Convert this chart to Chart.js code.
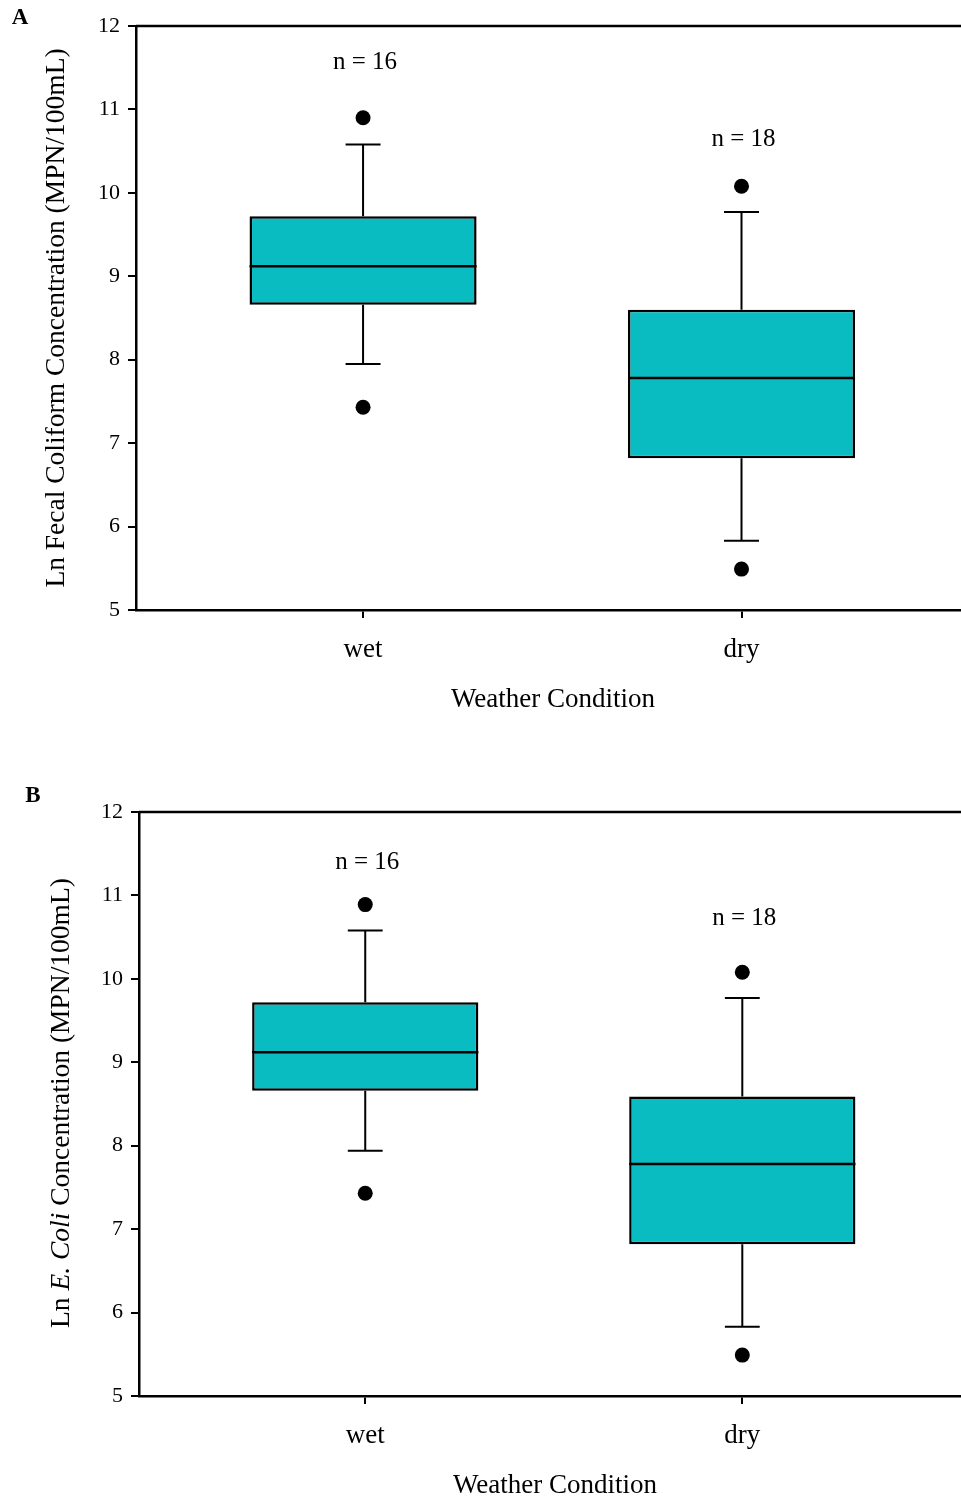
<!DOCTYPE html>
<html>
<head>
<meta charset="utf-8">
<script src="https://cdn.jsdelivr.net/npm/chart.js@4.4.1/dist/chart.umd.min.js"></script>
<style>
html, body { margin: 0; padding: 0; background: #fff; }
#wrap { position: relative; width: 961px; height: 1500px; }
canvas { position: absolute; left: 0; }
#chartA { top: 0; }
#chartB { top: 770px; }
</style>
</head>
<body>
<div id="wrap">
  <canvas id="chartA" width="961" height="740"></canvas>
  <canvas id="chartB" width="961" height="730"></canvas>
</div>
<script>
// data
var categories = ['wet', 'dry'];
var sampleSizes = [16, 18];
var yTicks = [5, 6, 7, 8, 9, 10, 11, 12];

// panel A - Ln fecal coliform
var fcQ1 = [8.66, 6.82];
var fcMedian = [9.12, 7.78];
var fcQ3 = [9.72, 8.60];
var fcWhiskerLow = [7.95, 5.83];
var fcWhiskerHigh = [10.58, 9.77];
var fcOutlierLow = [7.43, 5.49];
var fcOutlierHigh = [10.90, 10.08];

// panel B - Ln E. coli
var ecQ1 = [8.66, 6.82];
var ecMedian = [9.12, 7.78];
var ecQ3 = [9.72, 8.59];
var ecWhiskerLow = [7.94, 5.83];
var ecWhiskerHigh = [10.58, 9.77];
var ecOutlierLow = [7.43, 5.49];
var ecOutlierHigh = [10.89, 10.08];

var SERIF = "'Liberation Serif', 'Times New Roman', serif";
Chart.defaults.color = '#000';
Chart.defaults.font.family = SERIF;

function makeExtras(p) {
    return {
        id: 'boxExtras',
        beforeDatasetsDraw: function(chart) {
            var x = chart.scales.x, y = chart.scales.y, ctx = chart.ctx;
            var bars = chart.getDatasetMeta(0).data;
            ctx.save();
            ctx.strokeStyle = '#000';
            ctx.lineWidth = 2;
            for (var i = 0; i < categories.length; i++) {
                var px = x.getPixelForValue(i + 1);
                var cap = bars[i].width * 0.077;
                var pairs = [[p.q3[i], p.wHi[i]], [p.q1[i], p.wLo[i]]];
                pairs.forEach(function(pr) {
                    var y0 = y.getPixelForValue(pr[0]), y1 = y.getPixelForValue(pr[1]);
                    ctx.beginPath();
                    ctx.moveTo(px, y0);
                    ctx.lineTo(px, y1);
                    ctx.moveTo(px - cap, y1);
                    ctx.lineTo(px + cap, y1);
                    ctx.stroke();
                });
            }
            ctx.restore();
        },
        afterDatasetsDraw: function(chart) {
            var x = chart.scales.x, y = chart.scales.y, ctx = chart.ctx;
            var bars = chart.getDatasetMeta(0).data;
            ctx.save();
            ctx.strokeStyle = '#000';
            ctx.lineWidth = 2.5;
            for (var i = 0; i < categories.length; i++) {
                var b = bars[i];
                var ym = y.getPixelForValue(p.med[i]);
                ctx.beginPath();
                ctx.moveTo(b.x - b.width / 2, ym);
                ctx.lineTo(b.x + b.width / 2, ym);
                ctx.stroke();
                // n label above the top outlier
                ctx.fillStyle = '#000';
                ctx.font = '25px ' + SERIF;
                ctx.textAlign = 'center';
                ctx.textBaseline = 'middle';
                ctx.fillText('n = ' + sampleSizes[i], x.getPixelForValue(i + 1) + 2, y.getPixelForValue(p.oHi[i]) - p.nGap[i]);
            }
            ctx.restore();
        },
        afterDraw: function(chart) {
            var ctx = chart.ctx, a = chart.chartArea;
            ctx.save();
            // top frame line
            ctx.strokeStyle = '#000';
            ctx.lineWidth = 2.5;
            ctx.beginPath();
            ctx.moveTo(a.left, a.top);
            ctx.lineTo(chart.width, a.top);
            ctx.stroke();

            ctx.fillStyle = '#000';
            ctx.textBaseline = 'middle';
            // panel letter
            ctx.font = 'bold 23px ' + SERIF;
            ctx.textAlign = 'center';
            ctx.fillText(p.letter, p.letterX, p.letterY);

            // x title
            ctx.font = '27px ' + SERIF;
            ctx.fillText('Weather Condition', p.xTitleX, p.xTitleY);

            // y title, may have italic parts
            ctx.translate(p.yTitleX, p.yTitleY);
            ctx.rotate(-Math.PI / 2);
            var total = 0;
            p.yTitle.forEach(function(part) {
                ctx.font = (part[1] ? 'italic ' : '') + '27.5px ' + SERIF;
                total += ctx.measureText(part[0]).width;
            });
            var cx = -total / 2;
            ctx.textAlign = 'left';
            p.yTitle.forEach(function(part) {
                ctx.font = (part[1] ? 'italic ' : '') + '27.5px ' + SERIF;
                ctx.fillText(part[0], cx, 0);
                cx += ctx.measureText(part[0]).width;
            });
            ctx.restore();
        }
    };
}

function makeChart(id, p) {
    var ctx = document.getElementById(id).getContext('2d');
    var boxes = categories.map(function(c, i) { return { x: i + 1, y: [p.q1[i], p.q3[i]] }; });
    var outliers = [];
    categories.forEach(function(c, i) {
        outliers.push({ x: i + 1, y: p.oHi[i] });
        outliers.push({ x: i + 1, y: p.oLo[i] });
    });
    return new Chart(ctx, {
        type: 'bar',
        data: {
            datasets: [{
                data: boxes,
                backgroundColor: '#08BCC1',
                borderColor: '#000',
                borderWidth: 2.5,
                borderSkipped: false,
                barPercentage: 0.6,
                categoryPercentage: 1
            }, {
                type: 'scatter',
                data: outliers,
                pointRadius: 7.5,
                pointBackgroundColor: '#000',
                pointBorderWidth: 0
            }]
        },
        options: {
            responsive: false,
            animation: false,
            layout: { autoPadding: false, padding: { top: p.top, left: 0, right: 0, bottom: 0 } },
            plugins: { legend: { display: false }, tooltip: { enabled: false } },
            scales: {
                x: {
                    type: 'linear',
                    min: 0.4,
                    max: 2.58,
                    offset: false,
                    afterBuildTicks: function(s) {
                        s.ticks = categories.map(function(c, i) { return { value: i + 1 }; });
                    },
                    afterFit: function(s) {
                        s.height = p.canvasH - p.bottom;
                        s.paddingLeft = 0;
                        s.paddingRight = 0;
                    },
                    grid: { offset: false, drawOnChartArea: false, color: '#000', lineWidth: 2, tickLength: 8 },
                    border: { color: '#000', width: 2.5 },
                    ticks: {
                        padding: 16,
                        font: { size: 27 },
                        callback: function(v) { return categories[v - 1]; }
                    }
                },
                y: {
                    min: 5,
                    max: 12,
                    afterBuildTicks: function(s) {
                        s.ticks = yTicks.map(function(v) { return { value: v }; });
                    },
                    afterFit: function(s) {
                        s.width = p.left;
                        s.paddingTop = 0;
                        s.paddingBottom = 0;
                    },
                    grid: { drawOnChartArea: false, color: '#000', lineWidth: 2, tickLength: 8 },
                    border: { color: '#000', width: 2.5 },
                    ticks: { padding: 8, font: { size: 22 } }
                }
            }
        },
        plugins: [makeExtras(p)]
    });
}

makeChart('chartA', {
    q1: fcQ1, med: fcMedian, q3: fcQ3, wLo: fcWhiskerLow, wHi: fcWhiskerHigh,
    oLo: fcOutlierLow, oHi: fcOutlierHigh,
    canvasH: 740, top: 26, bottom: 610, left: 136,
    nGap: [55, 47],
    letter: 'A', letterX: 20, letterY: 18,
    xTitleX: 553, xTitleY: 700,
    yTitleX: 57, yTitleY: 318,
    yTitle: [['Ln Fecal Coliform Concentration (MPN/100mL)', false]]
});

makeChart('chartB', {
    q1: ecQ1, med: ecMedian, q3: ecQ3, wLo: ecWhiskerLow, wHi: ecWhiskerHigh,
    oLo: ecOutlierLow, oHi: ecOutlierHigh,
    canvasH: 730, top: 42, bottom: 626, left: 139,
    nGap: [42, 54],
    letter: 'B', letterX: 33, letterY: 26,
    xTitleX: 555, xTitleY: 716,
    yTitleX: 62, yTitleY: 333,
    yTitle: [['Ln ', false], ['E. Coli', true], [' Concentration (MPN/100mL)', false]]
});
</script>
</body>
</html>
